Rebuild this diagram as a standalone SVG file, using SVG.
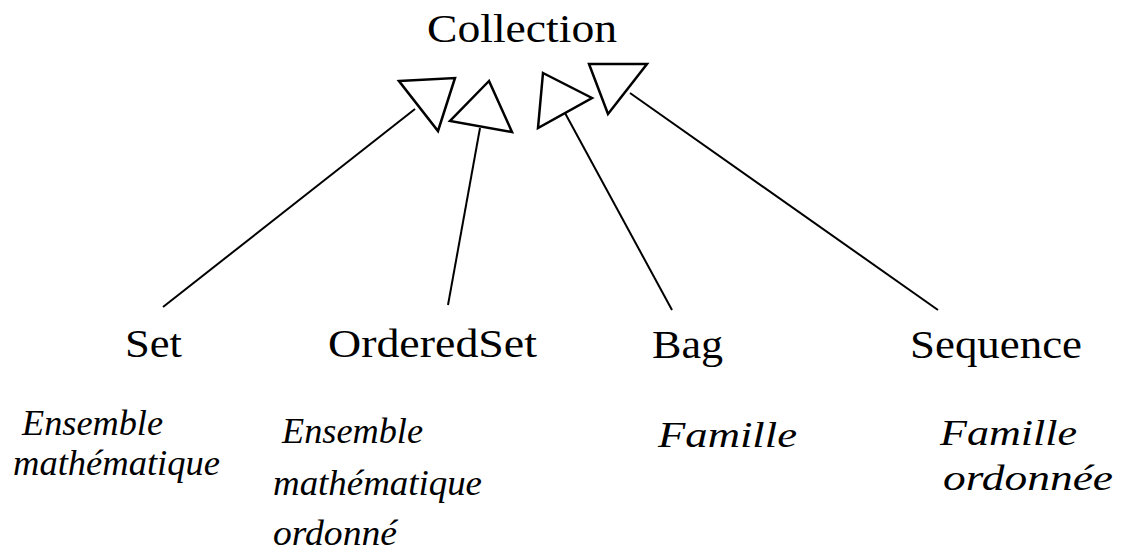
<svg xmlns="http://www.w3.org/2000/svg" width="1131" height="554" viewBox="0 0 1131 554">
<style>
.name{font-family:"Liberation Serif","DejaVu Serif",serif;font-size:40px;fill:#000}
.desc{font-family:"Liberation Serif","DejaVu Serif",serif;font-style:italic;font-size:35px;fill:#000}
.edge{stroke:#000;stroke-width:2;fill:none;stroke-linejoin:miter}
.head{stroke:#000;stroke-width:2.5;fill:none;stroke-linejoin:miter}
</style>
<rect width="1131" height="554" fill="#fff"/>
<g id="connectors">
<line class="edge" x1="163" y1="307" x2="415" y2="109"/>
<polygon class="head" points="399,81 455,78 438,131"/>
<line class="edge" x1="448" y1="305" x2="480" y2="128"/>
<polygon class="head" points="489,81 450,121 512,132"/>
<line class="edge" x1="672" y1="310" x2="565" y2="113"/>
<polygon class="head" points="543,73 592,98 538,128"/>
<line class="edge" x1="938" y1="310" x2="630" y2="93"/>
<polygon class="head" points="589,64 647,64 608,114"/>
</g>
<g id="collection">
<text class="name" x="427" y="42" textLength="190" lengthAdjust="spacingAndGlyphs">Collection</text>
</g>
<g id="set">
<text class="name" x="125" y="357" textLength="57" lengthAdjust="spacingAndGlyphs">Set</text>
<text class="desc" x="22" y="435" textLength="141" lengthAdjust="spacingAndGlyphs">Ensemble</text>
<text class="desc" x="13" y="475" textLength="207" lengthAdjust="spacingAndGlyphs">mathématique</text>
</g>
<g id="orderedset">
<text class="name" x="328" y="357" textLength="209" lengthAdjust="spacingAndGlyphs">OrderedSet</text>
<text class="desc" x="282" y="443" textLength="141" lengthAdjust="spacingAndGlyphs">Ensemble</text>
<text class="desc" x="273" y="495" textLength="209" lengthAdjust="spacingAndGlyphs">mathématique</text>
<text class="desc" x="273" y="545" textLength="124" lengthAdjust="spacingAndGlyphs">ordonné</text>
</g>
<g id="bag">
<text class="name" x="652" y="358" textLength="71" lengthAdjust="spacingAndGlyphs">Bag</text>
<text class="desc" x="658" y="447" textLength="139" lengthAdjust="spacingAndGlyphs">Famille</text>
</g>
<g id="sequence">
<text class="name" x="910" y="358" textLength="172" lengthAdjust="spacingAndGlyphs">Sequence</text>
<text class="desc" x="940" y="445" textLength="137" lengthAdjust="spacingAndGlyphs">Famille</text>
<text class="desc" x="943" y="490" textLength="170" lengthAdjust="spacingAndGlyphs">ordonnée</text>
</g>
</svg>
